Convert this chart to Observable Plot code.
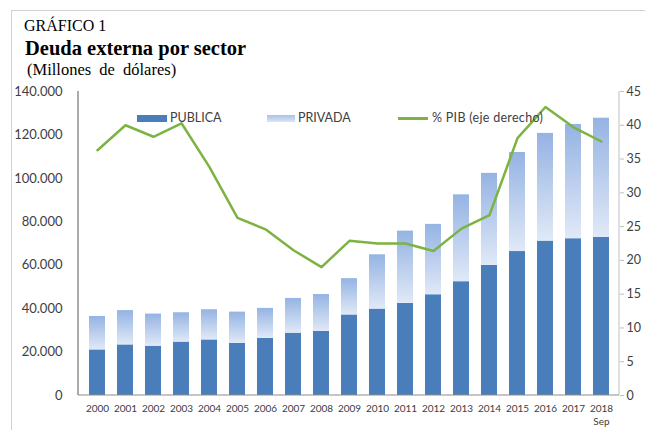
<!DOCTYPE html>
<html>
<head>
<meta charset="utf-8">
<script src="https://cdn.jsdelivr.net/npm/d3@7"></script>
<script src="https://cdn.jsdelivr.net/npm/@observablehq/plot@0.6"></script>
<style>
  html, body { margin: 0; padding: 0; background: #fff; }
  #wrap { position: relative; width: 645px; height: 430px; overflow: hidden; background: #fff; }
  #chart { position: absolute; left: 0; top: 0; }
  .frame { position: absolute; left: 11px; top: 10px; width: 700px; height: 500px;
           border-left: 1.5px solid #d2d2d2; border-top: 1.5px solid #d2d2d2; pointer-events: none; }
  .t { position: absolute; font-family: "Liberation Serif", "DejaVu Serif", serif; color: #000; white-space: nowrap; }
  .t1 { left: 24px; top: 17px; font-size: 16px; }
  .t2 { left: 25px; top: 37px; font-size: 20.5px; font-weight: bold; }
  .t3 { left: 27px; top: 60px; font-size: 16.5px; word-spacing: 4px; }
  .leg { position: absolute; font-family: Lato, "Open Sans", sans-serif; font-size: 12.5px; color: #404040; top: 110px; white-space: nowrap; }
  .sw { position: absolute; height: 7px; top: 115px; }
</style>
</head>
<body>
<div id="wrap">
  <div id="chart"></div>
  <div class="frame"></div>
  <div class="t t1">GRÁFICO 1</div>
  <div class="t t2">Deuda externa por sector</div>
  <div class="t t3">(Millones de dólares)</div>
  <div class="sw" style="left:137px;width:30px;background:#4a7ebb"></div>
  <div class="leg" style="left:170px">PUBLICA</div>
  <div class="sw" style="left:267px;width:28px;background:linear-gradient(#a9c1e8,#dbe5f5)"></div>
  <div class="leg" style="left:298px">PRIVADA</div>
  <div class="sw" style="left:398px;width:30px;height:2.5px;top:117px;background:#7cb342"></div>
  <div class="leg" style="left:432px;letter-spacing:0.3px">% PIB (eje derecho)</div>
</div>
<script>
const years = ["2000","2001","2002","2003","2004","2005","2006","2007","2008","2009",
               "2010","2011","2012","2013","2014","2015","2016","2017","2018"];
const publica = [21000, 23300, 22700, 24600, 25600, 24000, 26300, 28700, 29500, 37100,
                 39800, 42400, 46400, 52400, 59900, 66300, 71100, 72200, 72800];
const privada = [15400, 15800, 14800, 13500, 13900, 14400, 13800, 16000, 17000, 16700,
                 25000, 33300, 32400, 40000, 42400, 45600, 49600, 52600, 54900];
const pibPct = [36.3, 40.0, 38.3, 40.3, 33.8, 26.3, 24.6, 21.5, 19.0, 22.9,
                22.5, 22.5, 21.4, 24.7, 26.7, 38.1, 42.7, 39.7, 37.6];
const leftTicks = [0, 20000, 40000, 60000, 80000, 100000, 120000, 140000];
const rightTicks = [0, 5, 10, 15, 20, 25, 30, 35, 40, 45];
const subLabels = [{year: "2018", label: "Sep"}];

const K = 140000 / 45;
const rows = [];
years.forEach((y, i) => {
  rows.push({year: y, sector: "PUBLICA", value: publica[i]});
  rows.push({year: y, sector: "PRIVADA", value: privada[i]});
});
const pibRows = years.map((y, i) => ({year: y, pib: pibPct[i]}));

const W = 645, H = 430, mL = 78, mR = 26, mT = 91, mB = 35;

const defs = () => {
  const d = d3.create("svg:defs");
  const g = d.append("linearGradient").attr("id", "privGrad")
    .attr("x1", 0).attr("y1", 0).attr("x2", 0).attr("y2", 1);
  g.append("stop").attr("offset", "0%").attr("stop-color", "#95b3e3");
  g.append("stop").attr("offset", "100%").attr("stop-color", "#e0e9f7");
  return d.node();
};
const axisLines = () => {
  const g = d3.create("svg:g");
  g.append("line").attr("x1", mL).attr("x2", mL).attr("y1", mT).attr("y2", H - mB)
    .attr("stroke", "#595959").attr("stroke-width", 1);
  g.append("line").attr("x1", W - mR).attr("x2", W - mR).attr("y1", mT).attr("y2", H - mB)
    .attr("stroke", "#bfbfbf").attr("stroke-width", 1);
  g.append("line").attr("x1", mL).attr("x2", W - mR).attr("y1", H - mB).attr("y2", H - mB)
    .attr("stroke", "#8c8c8c").attr("stroke-width", 1);
  return g.node();
};

const chart = Plot.plot({
  width: W, height: H,
  marginLeft: mL, marginRight: mR, marginTop: mT, marginBottom: mB,
  style: {fontFamily: "Lato, 'Open Sans', sans-serif", fontSize: "12px", color: "#404040", background: "transparent"},
  x: {domain: years, paddingInner: 0.4375, paddingOuter: 0.246},
  y: {domain: [0, 140000]},
  color: {domain: ["PUBLICA", "PRIVADA"], range: ["#4a7ebb", "url(#privGrad)"]},
  marks: [
    defs,
    Plot.barY(rows, Plot.stackY({x: "year", y: "value", fill: "sector"})),
    axisLines,
    Plot.line(pibRows, {x: "year", y: d => d.pib * K, stroke: "#7cb342", strokeWidth: 2.5}),
    Plot.axisY({anchor: "left", ticks: leftTicks, tickSize: 0, tickPadding: 16, label: null,
      fontSize: 13, tickFormat: d => d3.format(",")(d).replace(/,/g, ".")}),
    Plot.axisY({anchor: "right", ticks: rightTicks.map(v => v * K), tickSize: 4, tickPadding: 3,
      label: null, fontSize: 12.5, stroke: "#bfbfbf", fill: "#404040",
      tickFormat: d => String(Math.round(d / K))}),
    Plot.axisX({tickSize: 0, tickPadding: 9, label: null, fontSize: 10}),
    Plot.text(subLabels, {x: "year", text: "label", frameAnchor: "bottom", dy: 29,
      fontSize: 10, fill: "#404040"})
  ]
});
document.getElementById("chart").appendChild(chart);
</script>
</body>
</html>
